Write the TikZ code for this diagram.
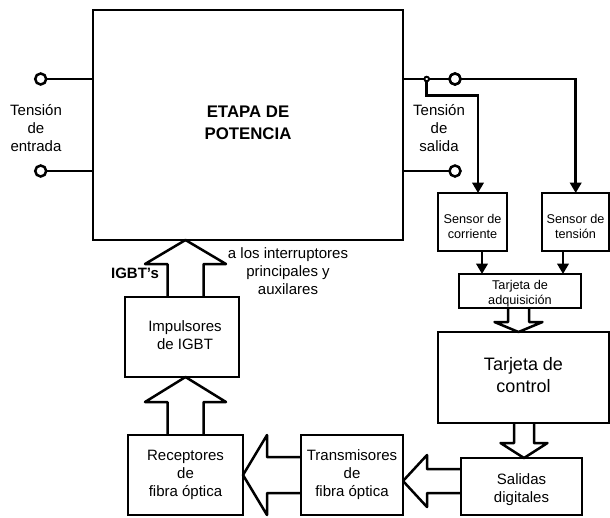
\documentclass[tikz,border=0pt]{standalone}
\usepackage{fontspec}
\setmainfont{Liberation Sans}
\usetikzlibrary{calc,arrows.meta}
\tikzset{
  x=1pt,y=-1pt,
  wire/.style={line width=2.5pt,line cap=butt,line join=miter},
  feed/.style={wire,-{Triangle[length=10.5pt,width=11.5pt]}},
  blockbox/.style={draw,line width=2.5pt,inner sep=0pt,outer sep=0pt,align=center,anchor=north west,font=\fontsize{15}{18}\selectfont},
  smallbox/.style={blockbox,font=\fontsize{12.7}{15}\selectfont},
  bigbox/.style={blockbox,font=\fontsize{18}{22}\selectfont},
  titlebox/.style={blockbox,font=\bfseries\fontsize{16.8}{22}\selectfont},
  lbl/.style={align=center,inner sep=0pt,font=\fontsize{15}{18}\selectfont},
  term/.style={circle,draw,line width=2.5pt,fill=white,minimum size=11pt,inner sep=0pt,outer sep=0pt},
  jdot/.style={circle,draw,line width=1.8pt,fill=white,minimum size=4.5pt,inner sep=0pt,outer sep=0pt},
  hollow/.style={line width=2.5pt,line join=round,line cap=butt}
}
% start, tip, half stem, half head, head length
\newcommand{\hollowarrow}[5]{%
  \coordinate (hS) at #1;
  \coordinate (hT) at #2;
  \coordinate (hB) at ($(hT)!#5!(hS)$);
  \draw[hollow]
    ($(hS)!#3!90:(hT)$) -- ($(hB)!#3!90:(hT)$) -- ($(hB)!#4!90:(hT)$) -- (hT)
    -- ($(hB)!#4!-90:(hT)$) -- ($(hB)!#3!-90:(hT)$) -- ($(hS)!#3!-90:(hT)$);
}
\begin{document}
\begin{tikzpicture}
\useasboundingbox (0,0) rectangle (610,517);
% blocks
\node[titlebox,minimum width=310pt,minimum height=230pt,text depth=4.5pt] (main) at (93,10) {ETAPA DE\\POTENCIA};
\node[smallbox,minimum width=69pt,minimum height=58pt,text height=34pt] (scorr) at (438,193) {Sensor de\\corriente};
\node[smallbox,minimum width=67pt,minimum height=58pt,text height=34pt] (sten) at (542,193) {Sensor de\\tensión};
\node[smallbox,minimum width=122pt,minimum height=34pt,text height=30pt] (adq) at (459,274) {Tarjeta de\\adquisición};
\node[bigbox,minimum width=171pt,minimum height=91pt,text depth=4.5pt] (ctrl) at (438,332) {Tarjeta de\\control};
\node[blockbox,minimum width=121pt,minimum height=57pt,text height=36pt] (sal) at (461,458) {Salidas\\digitales};
\node[blockbox,minimum width=102pt,minimum height=80pt,text depth=3.5pt] (trans) at (301,435) {Transmisores\\de\\fibra óptica};
\node[blockbox,minimum width=115pt,minimum height=80pt,text depth=3.5pt] (rec) at (128,435) {Receptores\\de\\fibra óptica};
\node[blockbox,minimum width=114pt,minimum height=80pt,text depth=4pt] (imp) at (125,297) {\hspace*{6pt}Impulsores\\\hspace*{6pt}de IGBT};
% terminals
\node[term] (inA) at (40.7,79) {};
\node[term] (inB) at (40.7,171) {};
\node[term] (outA) at (455,79) {};
\node[term] (outB) at (455,171) {};
\node[jdot] (jn) at (426.7,79) {};
\coordinate (mainA) at (main.west |- inA);
\coordinate (mainB) at (main.west |- inB);
\coordinate (mainC) at (main.east |- outA);
\coordinate (mainD) at (main.east |- outB);
\draw[wire] (inA) -- (mainA);
\draw[wire] (inB) -- (mainB);
\draw[wire] (mainC) -- (jn) -- (outA);
\draw[wire] (mainD) -- (outB);
% feeds
\coordinate (cornerA) at (426.7,95.7);
\coordinate (toCorr) at (478,193);
\coordinate (toTen) at (575.7,193);
\draw[feed] (jn) -- (cornerA) -- (cornerA -| toCorr) -- (toCorr);
\draw[feed] (outA) -- (outA -| toTen) -- (toTen);
\draw[feed] (scorr.south -| 482,0) -- (adq.north -| 482,0);
\draw[feed] (sten.south -| 563,0) -- (adq.north -| 563,0);
\node[jdot] at (jn) {};
\node[term] at (outA) {};
% hollow arrows
\hollowarrow{(adq.south -| 518.5,0)}{(ctrl.north -| 518.5,0)}{10.5pt}{24pt}{10pt}
\hollowarrow{(ctrl.south -| 524,0)}{(sal.north -| 524,0)}{10pt}{23.5pt}{15pt}
\hollowarrow{([yshift=5.5pt]sal.west)}{([yshift=-6pt]trans.east)}{12pt}{26pt}{24pt}
\hollowarrow{(trans.west)}{(rec.east)}{18pt}{40pt}{24pt}
\hollowarrow{(rec.north)}{(rec.north |- imp.south)}{18pt}{40.5pt}{25pt}
\hollowarrow{(rec.north |- imp.north)}{(rec.north |- main.south)}{18pt}{40.5pt}{24pt}
% labels
\node[lbl] (lin) at (36,128) {Tensión\\de\\entrada};
\node[lbl] (lout) at (439,128) {Tensión\\de\\salida};
\node[lbl,font=\bfseries\fontsize{15}{18}\selectfont] (ligbt) at (135,273) {IGBT's};
\node[lbl] (lint) at (288,271) {a los interruptores\\principales y\\auxilares};
\end{tikzpicture}
\end{document}
